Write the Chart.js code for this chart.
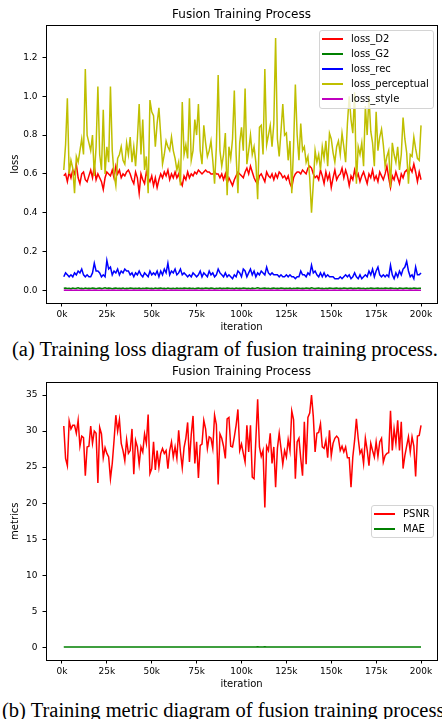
<!DOCTYPE html>
<html>
<head>
<meta charset="utf-8">
<script src="https://cdn.jsdelivr.net/npm/chart.js@4.4.1/dist/chart.umd.min.js"></script>
<style>
  body { margin: 0; background: #fff; }
  #page { position: relative; width: 442px; height: 719px; overflow: hidden; background: #fff; }
  canvas { position: absolute; left: 0; }
  .legend { position: absolute; box-sizing: border-box; border: 1px solid #d4d4d4; border-radius: 3px;
            background: rgba(255,255,255,0.8); font-family: "DejaVu Sans", sans-serif; font-size: 10px; color: #000; }
  .legend .row { position: absolute; left: 0; right: 0; height: 15px; line-height: 15px; }
  .legend .swatch { position: absolute; left: 2px; top: 7px; width: 21px; height: 2px; }
  .legend .txt { position: absolute; left: 31px; top: 0; white-space: nowrap; }
  .caption { position: absolute; white-space: nowrap; font-family: "Liberation Serif", "Times New Roman", serif;
             font-size: 20.5px; line-height: 22px; color: #000; }
</style>
</head>
<body>
<div id="page">
  <canvas id="lossChart" width="442" height="336" style="top:0"></canvas>
  <div class="legend" id="lossLegend" style="left:319px;top:30px;width:115px;height:79px"></div>
  <div class="caption" style="left:12px;top:338px">(a) Training loss diagram of fusion training process.</div>
  <canvas id="metricChart" width="442" height="336" style="top:357px"></canvas>
  <div class="legend" id="metricLegend" style="left:371px;top:505px;width:63px;height:33px"></div>
  <div class="caption" style="left:2px;top:699px">(b) Training metric diagram of fusion training process.</div>
</div>
<script>
// iterations: one logged point every 1k steps
const iterations = Array.from({ length: 200 }, (_, i) => (i + 1) * 1000);
const xTicks = [0, 25000, 50000, 75000, 100000, 125000, 150000, 175000, 200000];
const lossTicks = [0, 0.2, 0.4, 0.6, 0.8, 1.0, 1.2];
const metricTicks = [0, 5, 10, 15, 20, 25, 30, 35];

const lossD2 = [
  0.59,0.60,0.56,0.61,0.58,0.62,0.60,0.65,0.58,0.55, 0.60,0.61,0.57,0.56,0.59,0.62,0.58,0.64,0.57,0.60,
  0.58,0.56,0.52,0.58,0.61,0.60,0.59,0.62,0.58,0.64, 0.60,0.62,0.58,0.60,0.59,0.61,0.62,0.60,0.57,0.55,
  0.61,0.58,0.50,0.60,0.57,0.55,0.61,0.58,0.56,0.59, 0.54,0.58,0.53,0.57,0.60,0.58,0.61,0.59,0.62,0.57,
  0.60,0.58,0.61,0.58,0.60,0.56,0.54,0.59,0.57,0.61, 0.58,0.60,0.59,0.61,0.60,0.62,0.61,0.60,0.61,0.62,
  0.61,0.61,0.60,0.60,0.61,0.60,0.60,0.58,0.60,0.57, 0.60,0.55,0.58,0.56,0.54,0.57,0.59,0.61,0.60,0.59,
  0.58,0.61,0.63,0.60,0.64,0.61,0.58,0.56,0.55,0.59, 0.60,0.58,0.56,0.61,0.59,0.58,0.60,0.57,0.60,0.58,
  0.61,0.60,0.58,0.59,0.57,0.59,0.55,0.53,0.58,0.60, 0.61,0.61,0.60,0.62,0.61,0.60,0.63,0.64,0.63,0.60,
  0.58,0.59,0.57,0.62,0.59,0.55,0.61,0.57,0.60,0.53, 0.58,0.62,0.57,0.59,0.60,0.63,0.58,0.62,0.59,0.54,
  0.59,0.57,0.62,0.58,0.60,0.56,0.59,0.61,0.58,0.55, 0.60,0.58,0.62,0.57,0.59,0.56,0.61,0.59,0.57,0.60,
  0.64,0.58,0.53,0.59,0.57,0.61,0.58,0.55,0.60,0.58, 0.61,0.62,0.60,0.63,0.61,0.65,0.61,0.56,0.61,0.57
];
const lossG2 = [
  0.011,0.012,0.010,0.011,0.009,0.012,0.010,0.011,0.013,0.010, 0.011,0.009,0.012,0.010,0.011,0.010,0.012,0.011,0.009,0.011,
  0.012,0.010,0.011,0.013,0.010,0.012,0.011,0.009,0.011,0.012, 0.010,0.011,0.010,0.012,0.009,0.011,0.010,0.012,0.011,0.010,
  0.011,0.010,0.012,0.009,0.011,0.010,0.012,0.011,0.010,0.011, 0.009,0.012,0.010,0.011,0.012,0.010,0.011,0.009,0.012,0.010,
  0.010,0.011,0.009,0.012,0.010,0.011,0.010,0.012,0.011,0.010, 0.012,0.010,0.011,0.009,0.011,0.012,0.010,0.011,0.010,0.012,
  0.011,0.010,0.012,0.011,0.009,0.011,0.010,0.012,0.010,0.011, 0.010,0.012,0.011,0.010,0.011,0.009,0.012,0.010,0.011,0.010,
  0.012,0.011,0.010,0.011,0.009,0.012,0.010,0.011,0.013,0.011, 0.010,0.011,0.012,0.010,0.011,0.009,0.011,0.012,0.010,0.011,
  0.010,0.012,0.011,0.010,0.011,0.010,0.012,0.009,0.011,0.010, 0.012,0.011,0.010,0.011,0.010,0.012,0.011,0.010,0.013,0.011,
  0.010,0.011,0.012,0.010,0.011,0.009,0.011,0.010,0.012,0.011, 0.010,0.011,0.012,0.010,0.011,0.010,0.012,0.011,0.010,0.011,
  0.012,0.010,0.011,0.010,0.012,0.011,0.010,0.011,0.009,0.011, 0.010,0.012,0.011,0.010,0.011,0.012,0.010,0.011,0.010,0.012,
  0.011,0.010,0.012,0.011,0.010,0.011,0.009,0.012,0.011,0.010, 0.011,0.012,0.010,0.011,0.010,0.012,0.011,0.010,0.011,0.011
];
const lossRec = [
  0.07,0.09,0.08,0.07,0.08,0.07,0.09,0.08,0.10,0.09, 0.11,0.08,0.07,0.08,0.07,0.07,0.09,0.14,0.10,0.10,
  0.09,0.07,0.08,0.07,0.155,0.11,0.12,0.08,0.10,0.09, 0.11,0.08,0.10,0.09,0.11,0.10,0.10,0.08,0.09,0.07,
  0.09,0.08,0.10,0.08,0.07,0.09,0.08,0.07,0.10,0.08, 0.09,0.08,0.10,0.07,0.10,0.08,0.11,0.09,0.14,0.08,
  0.10,0.09,0.11,0.08,0.09,0.11,0.08,0.09,0.08,0.07, 0.08,0.07,0.09,0.08,0.07,0.08,0.10,0.07,0.09,0.08,
  0.07,0.10,0.08,0.09,0.07,0.08,0.11,0.09,0.08,0.07, 0.09,0.07,0.08,0.07,0.06,0.08,0.07,0.10,0.09,0.07,
  0.11,0.10,0.07,0.09,0.11,0.08,0.10,0.07,0.09,0.08, 0.10,0.09,0.08,0.12,0.09,0.08,0.09,0.08,0.08,0.08,
  0.07,0.08,0.07,0.07,0.08,0.07,0.08,0.07,0.07,0.06, 0.07,0.07,0.10,0.08,0.08,0.07,0.09,0.08,0.13,0.09,
  0.10,0.08,0.07,0.09,0.07,0.09,0.07,0.08,0.07,0.07, 0.07,0.06,0.06,0.06,0.07,0.06,0.07,0.08,0.07,0.08,
  0.06,0.07,0.09,0.07,0.06,0.08,0.06,0.07,0.08,0.07, 0.10,0.08,0.11,0.07,0.10,0.12,0.08,0.07,0.08,0.07,
  0.08,0.07,0.13,0.08,0.06,0.09,0.07,0.10,0.08,0.11, 0.12,0.15,0.10,0.07,0.08,0.06,0.12,0.08,0.08,0.09
];
const lossPerceptual = [
  0.62,0.75,0.99,0.60,0.67,0.63,0.50,0.69,0.66,0.72, 0.78,0.70,1.14,0.80,0.76,0.72,0.80,0.59,0.74,1.05,
  0.70,0.62,0.93,0.60,0.74,0.66,1.05,0.72,0.60,0.54, 0.68,0.70,0.74,0.67,0.65,0.76,0.70,0.79,0.66,0.74,
  0.64,0.78,0.96,0.70,0.88,0.62,0.69,0.50,0.98,0.92, 0.90,0.74,0.86,0.94,0.80,0.65,0.70,0.77,0.74,0.72,
  0.79,0.72,0.68,0.62,0.66,0.54,0.97,0.70,0.75,0.68, 0.99,0.67,0.72,0.88,0.80,0.96,0.72,0.65,0.85,0.76,
  0.69,0.72,0.77,0.67,0.55,0.74,1.11,0.72,0.64,0.70, 0.81,0.49,0.74,0.68,0.78,1.03,0.70,0.50,0.76,0.84,
  0.72,1.04,0.65,0.72,0.80,0.70,0.74,0.66,0.47,0.84, 0.85,0.70,1.14,0.75,0.80,0.85,0.74,0.86,1.30,0.78,
  0.69,0.82,0.96,0.80,0.81,0.67,0.77,0.50,0.74,1.06, 0.80,0.67,0.86,0.72,0.74,0.66,0.69,0.58,0.40,0.55,
  0.72,0.66,0.70,0.62,0.74,0.68,0.77,0.64,0.81,0.78, 0.71,0.66,0.74,0.77,0.70,0.81,0.74,0.66,0.86,1.00,
  0.88,0.81,1.02,0.55,0.74,0.70,0.76,0.64,0.95,0.80, 1.00,0.82,0.76,0.64,0.92,0.72,0.79,0.83,0.75,0.64,
  0.69,0.72,0.53,0.76,0.70,0.66,0.74,0.62,0.70,0.89, 0.78,0.71,0.55,0.70,0.69,0.79,0.73,0.68,0.67,0.85
];
const lossStyle = [
  0.001,0.002,0.001,0.001,0.002,0.001,0.001,0.002,0.001,0.001, 0.002,0.001,0.001,0.001,0.002,0.001,0.001,0.002,0.001,0.001,
  0.001,0.002,0.001,0.001,0.001,0.002,0.001,0.001,0.002,0.001, 0.001,0.001,0.002,0.001,0.001,0.002,0.001,0.001,0.001,0.002,
  0.001,0.001,0.002,0.001,0.001,0.001,0.002,0.001,0.001,0.002, 0.001,0.001,0.001,0.002,0.001,0.001,0.002,0.001,0.001,0.001,
  0.002,0.001,0.001,0.002,0.001,0.001,0.001,0.002,0.001,0.001, 0.002,0.001,0.001,0.001,0.002,0.001,0.001,0.002,0.001,0.001,
  0.001,0.002,0.001,0.001,0.002,0.001,0.001,0.001,0.002,0.001, 0.001,0.002,0.001,0.001,0.001,0.002,0.001,0.001,0.002,0.001,
  0.001,0.001,0.002,0.001,0.001,0.002,0.001,0.001,0.001,0.002, 0.001,0.001,0.002,0.001,0.001,0.001,0.002,0.001,0.001,0.002,
  0.001,0.001,0.001,0.002,0.001,0.001,0.002,0.001,0.001,0.001, 0.002,0.001,0.001,0.002,0.001,0.001,0.001,0.002,0.001,0.001,
  0.002,0.001,0.001,0.001,0.002,0.001,0.001,0.002,0.001,0.001, 0.001,0.002,0.001,0.001,0.002,0.001,0.001,0.001,0.002,0.001,
  0.001,0.002,0.001,0.001,0.001,0.002,0.001,0.001,0.002,0.001, 0.001,0.001,0.002,0.001,0.001,0.002,0.001,0.001,0.001,0.002,
  0.001,0.001,0.002,0.001,0.001,0.001,0.002,0.001,0.001,0.002, 0.001,0.001,0.001,0.002,0.001,0.001,0.002,0.001,0.001,0.001
];

const psnr = [
  30.7,26.2,25.2,31.4,30.3,30.8,30.8,29.7,31.5,27.9, 29.3,29.1,23.8,27.8,27.9,30.7,28.3,30.0,29.7,22.8,
  30.5,29.6,26.3,27.7,26.9,26.4,23.4,25.5,28.7,32.2, 30.0,31.6,28.3,27.3,25.9,28.8,26.9,27.3,30.3,24.0,
  28.7,27.8,25.4,27.8,27.1,29.6,28.3,32.3,24.1,24.8, 28.5,24.6,27.3,25.0,26.9,27.6,26.9,27.3,24.8,27.3,
  28.5,26.4,27.8,26.2,30.1,27.1,24.9,27.7,29.0,31.2, 25.7,29.5,32.1,25.5,28.5,23.5,28.0,28.2,31.5,30.3,
  27.6,29.2,29.0,27.6,32.2,30.9,22.6,29.6,29.0,27.9, 26.2,31.7,31.9,27.9,27.8,29.2,30.8,33.0,27.3,28.2,
  26.9,25.7,30.8,27.1,30.8,23.6,23.4,28.9,34.4,27.8, 26.5,27.3,19.4,27.9,27.3,29.7,25.5,27.8,22.2,27.6,
  29.7,27.6,25.4,27.3,26.4,28.8,27.3,32.8,31.6,23.4, 28.5,29.0,26.2,23.8,31.3,25.4,31.9,32.5,35.0,32.0,
  27.1,29.7,29.8,31.0,27.8,27.6,28.7,26.3,30.1,26.6, 28.3,29.0,29.3,29.0,27.3,27.9,27.1,27.8,26.3,26.3,
  22.2,26.4,28.7,31.7,29.0,26.9,27.4,25.5,29.0,27.4, 25.2,28.3,27.3,26.4,28.5,26.5,28.5,29.0,25.7,26.6,
  26.9,27.0,32.8,27.3,30.3,28.3,31.5,27.3,31.3,24.8, 26.6,27.9,29.2,27.1,29.2,27.9,23.7,29.3,29.4,30.8
];
const mae = [
  0.05,0.06,0.06,0.05,0.05,0.05,0.05,0.05,0.05,0.06, 0.05,0.05,0.06,0.05,0.05,0.05,0.05,0.06,0.05,0.05,
  0.05,0.06,0.05,0.05,0.05,0.05,0.06,0.05,0.05,0.05, 0.05,0.05,0.06,0.05,0.05,0.05,0.06,0.05,0.05,0.05,
  0.06,0.05,0.05,0.05,0.05,0.06,0.05,0.05,0.05,0.06, 0.05,0.05,0.05,0.06,0.05,0.05,0.05,0.05,0.06,0.05,
  0.05,0.05,0.06,0.05,0.05,0.05,0.05,0.06,0.05,0.05, 0.05,0.06,0.05,0.05,0.05,0.05,0.05,0.06,0.05,0.05,
  0.05,0.05,0.06,0.05,0.05,0.05,0.06,0.05,0.05,0.05, 0.05,0.06,0.05,0.05,0.05,0.05,0.05,0.05,0.06,0.05,
  0.05,0.05,0.05,0.06,0.05,0.05,0.05,0.05,0.07,0.05, 0.05,0.05,0.07,0.05,0.05,0.06,0.05,0.05,0.06,0.05,
  0.05,0.05,0.05,0.05,0.06,0.05,0.05,0.05,0.05,0.06, 0.05,0.05,0.05,0.06,0.05,0.05,0.05,0.05,0.05,0.05,
  0.05,0.06,0.05,0.05,0.05,0.05,0.06,0.05,0.05,0.05, 0.05,0.05,0.05,0.05,0.06,0.05,0.05,0.05,0.05,0.05,
  0.06,0.05,0.05,0.05,0.05,0.06,0.05,0.05,0.05,0.05, 0.05,0.06,0.05,0.05,0.05,0.05,0.05,0.06,0.05,0.05,
  0.05,0.05,0.06,0.05,0.05,0.05,0.05,0.05,0.06,0.05, 0.05,0.05,0.06,0.05,0.05,0.05,0.05,0.06,0.05,0.05
];

Chart.defaults.font.family = '"DejaVu Sans", sans-serif';
Chart.defaults.color = '#000';

function pts(values) {
  return values.map((v, i) => ({ x: iterations[i], y: v }));
}

// matplotlib-like full box round the plot area
const frame = {
  id: 'frame',
  afterDatasetsDraw(chart) {
    const { ctx, chartArea: a } = chart;
    ctx.save();
    ctx.strokeStyle = '#000';
    ctx.lineWidth = 1;
    ctx.strokeRect(Math.round(a.left) + 0.5, Math.round(a.top) + 0.5,
      Math.round(a.right - a.left), Math.round(a.bottom - a.top));
    ctx.restore();
  }
};

function makeOptions(yTitle, yMin, yMax, yTicks, yFmt) {
  return {
    responsive: false,
    animation: false,
    layout: { padding: { left: 0, right: 5, top: 0, bottom: 0 } },
    elements: { point: { radius: 0 }, line: { borderWidth: 1.5, tension: 0 } },
    plugins: {
      legend: { display: false },
      tooltip: { enabled: false },
      title: {
        display: true, text: 'Fusion Training Process', fullSize: false,
        font: { size: 12, weight: 'normal' }, color: '#000',
        padding: { top: 8, bottom: 3 }
      }
    },
    scales: {
      x: {
        type: 'linear', min: -8900, max: 208900,
        afterBuildTicks: s => { s.ticks = xTicks.map(v => ({ value: v })); },
        afterFit: s => { s.height = 33; },
        ticks: { font: { size: 9 }, color: '#000', padding: 3, maxRotation: 0,
                 callback: v => (v / 1000) + 'k' },
        grid: { drawOnChartArea: false, drawTicks: true, tickLength: 3.5, tickColor: '#000' },
        border: { display: false },
        title: { display: true, text: 'iteration', font: { size: 10 }, color: '#000',
                 padding: { top: 0, bottom: 3 } }
      },
      y: {
        min: yMin, max: yMax,
        afterBuildTicks: s => { s.ticks = yTicks.map(v => ({ value: v })); },
        afterFit: s => { s.width = 46; },
        ticks: { font: { size: 9 }, color: '#000', padding: 5, callback: yFmt },
        grid: { drawOnChartArea: false, drawTicks: true, tickLength: 3.5, tickColor: '#000' },
        border: { display: false },
        title: { display: true, text: yTitle, font: { size: 10 }, color: '#000',
                 padding: { top: 9, bottom: 0 } }
      }
    }
  };
}

const lossChart = new Chart(document.getElementById('lossChart'), {
  type: 'line',
  data: {
    datasets: [
      { label: 'loss_D2', data: pts(lossD2), borderColor: '#ff0000', order: 5 },
      { label: 'loss_G2', data: pts(lossG2), borderColor: '#008000', order: 4 },
      { label: 'loss_rec', data: pts(lossRec), borderColor: '#0000ff', order: 3 },
      { label: 'loss_perceptual', data: pts(lossPerceptual), borderColor: '#bfbf00', order: 2 },
      { label: 'loss_style', data: pts(lossStyle), borderColor: '#bf00bf', order: 1 }
    ]
  },
  options: makeOptions('loss', -0.065, 1.365, lossTicks, v => v.toFixed(1)),
  plugins: [frame]
});

const metricChart = new Chart(document.getElementById('metricChart'), {
  type: 'line',
  data: {
    datasets: [
      { label: 'PSNR', data: pts(psnr), borderColor: '#ff0000', order: 2 },
      { label: 'MAE', data: pts(mae), borderColor: '#008000', order: 1 }
    ]
  },
  options: makeOptions('metrics', -1.75, 36.75, metricTicks, v => String(v)),
  plugins: [frame]
});

// legend boxes inside the plot, like matplotlib's
function buildLegend(el, chart) {
  chart.data.datasets.forEach((ds, i) => {
    const row = document.createElement('div');
    row.className = 'row';
    row.style.top = (i * 15) + 'px';
    const sw = document.createElement('div');
    sw.className = 'swatch';
    sw.style.background = ds.borderColor;
    const txt = document.createElement('span');
    txt.className = 'txt';
    txt.textContent = ds.label;
    row.appendChild(sw);
    row.appendChild(txt);
    el.appendChild(row);
  });
}
buildLegend(document.getElementById('lossLegend'), lossChart);
buildLegend(document.getElementById('metricLegend'), metricChart);
</script>
</body>
</html>
